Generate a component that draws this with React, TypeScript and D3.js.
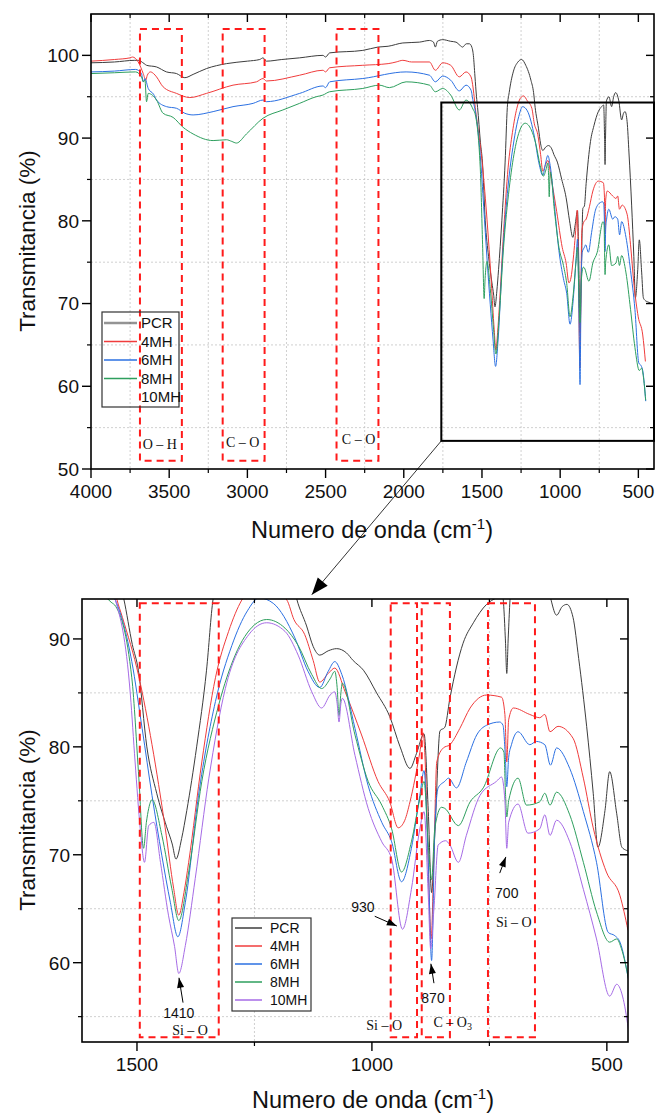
import React from 'react';
import * as d3 from 'd3';

type Pt = [number, number];

// FTIR spectra: [wavenumber (cm-1), transmittance (%)]
const names = ['PCR', '4MH', '6MH', '8MH', '10MH'];
const colors = ['#3d3d3d', '#f03c3c', '#2b70e2', '#2e9f5e', '#a66be6'];

const pcr: Pt[] = [
  [4000, 99.1], [3850, 99.2], [3720, 99.4], [3698, 99.4], [3660, 99.0], [3645, 98.8], [3581, 98.6],
  [3517, 98.0], [3453, 97.8], [3400, 97.3], [3347, 97.7], [3262, 98.4], [3134, 99.0], [3000, 99.3],
  [2921, 99.5], [2900, 99.7], [2879, 99.3], [2780, 99.5], [2666, 99.7], [2517, 100.0], [2500, 99.8],
  [2474, 100.3], [2262, 100.6], [2166, 101.0], [2100, 101.1], [2006, 101.5], [1900, 101.6],
  [1836, 101.8], [1810, 101.6], [1798, 101.0], [1785, 101.7], [1751, 101.9], [1700, 101.7],
  [1666, 101.6], [1640, 101.2], [1624, 101.0], [1600, 101.4], [1580, 101.4], [1565, 101.0],
  [1555, 100.0], [1545, 97.5], [1535, 95.0], [1528, 93.7], [1510, 89.5], [1497, 87.1], [1479, 80.0],
  [1458, 75.7], [1437, 72.6], [1425, 71.0], [1417, 69.6], [1405, 71.5], [1394, 74.1], [1373, 80.0],
  [1352, 87.1], [1338, 93.7], [1326, 95.5], [1300, 98.0], [1270, 99.2], [1247, 99.5], [1220, 98.8],
  [1187, 97.0], [1170, 95.5], [1160, 93.7], [1139, 91.2], [1125, 89.3], [1111, 88.5], [1093, 88.9],
  [1075, 89.1], [1054, 88.7], [1040, 88.0], [1018, 87.1], [990, 85.0], [962, 82.8], [940, 80.0],
  [919, 78.0], [905, 79.4], [889, 81.2], [880, 74.0], [873, 66.5], [866, 72.0], [855, 81.5],
  [845, 81.8], [834, 84.5], [806, 89.6], [784, 91.5], [756, 93.2], [735, 93.8], [722, 94.0],
  [716, 90.0], [713, 86.8], [710, 90.0], [704, 94.5], [688, 95.0], [671, 93.8], [658, 95.0],
  [645, 95.5], [625, 94.5], [607, 92.2], [595, 93.0], [585, 93.2], [572, 92.0], [560, 88.2],
  [543, 81.9], [529, 75.7], [519, 70.7], [504, 74.1], [494, 77.7], [479, 73.8], [468, 70.7],
  [458, 70.4], [440, 70.2], [415, 70.0],
];

const mh4: Pt[] = [
  [4000, 99.3], [3850, 99.5], [3751, 99.7], [3735, 99.8], [3698, 99.2], [3666, 97.8], [3650, 97.0],
  [3640, 97.6], [3620, 98.0], [3600, 97.8], [3581, 97.4], [3539, 96.2], [3453, 95.4], [3368, 94.9],
  [3262, 95.4], [3092, 96.4], [2942, 96.8], [2900, 97.2], [2879, 96.9], [2666, 97.6], [2517, 98.2],
  [2500, 98.0], [2474, 98.5], [2262, 98.8], [2100, 99.0], [2049, 99.2], [2006, 99.4], [1950, 99.2],
  [1836, 99.2], [1798, 98.2], [1751, 99.1], [1700, 98.8], [1645, 97.4], [1602, 98.0], [1570, 97.4],
  [1560, 96.5], [1550, 95.0], [1543, 93.7], [1531, 92.0], [1496, 86.5], [1468, 80.2], [1440, 72.5],
  [1422, 66.9], [1411, 64.4], [1400, 66.5], [1390, 69.3], [1362, 78.6], [1333, 86.4], [1305, 90.7],
  [1277, 93.6], [1255, 94.8], [1234, 95.1], [1210, 94.5], [1181, 93.6], [1166, 91.8], [1143, 90.4],
  [1125, 88.0], [1111, 86.0], [1093, 86.8], [1079, 87.3], [1057, 85.1], [1022, 81.1], [987, 76.8],
  [962, 74.9], [944, 72.5], [930, 73.2], [919, 74.9], [898, 79.5], [891, 81.3], [884, 75.5],
  [878, 66.0], [874, 62.2], [868, 70.0], [862, 78.6], [848, 79.9], [834, 80.2], [813, 81.7],
  [791, 83.6], [756, 84.8], [724, 84.6], [717, 83.0], [713, 78.6], [709, 82.5], [699, 83.6],
  [664, 83.0], [643, 82.7], [632, 83.0], [621, 81.4], [604, 81.9], [572, 80.8], [550, 77.1],
  [529, 72.5], [501, 68.4], [472, 66.2], [455, 63.0],
];

const mh6: Pt[] = [
  [4000, 98.0], [3850, 98.1], [3715, 98.3], [3677, 97.8], [3666, 96.8], [3655, 97.2], [3634, 96.0],
  [3600, 95.3], [3581, 94.6], [3517, 93.8], [3453, 93.6], [3400, 93.0], [3347, 92.8], [3219, 93.2],
  [3092, 93.8], [2963, 94.2], [2900, 94.6], [2879, 94.4], [2666, 95.4], [2517, 96.3], [2500, 96.1],
  [2474, 96.8], [2262, 97.2], [1985, 98.0], [1836, 97.6], [1798, 96.8], [1751, 97.5], [1700, 97.0],
  [1645, 95.7], [1602, 96.4], [1570, 95.8], [1557, 94.5], [1546, 93.6], [1511, 87.9], [1489, 81.7],
  [1468, 75.5], [1447, 69.9], [1429, 65.6], [1413, 62.4], [1397, 65.6], [1369, 75.5], [1333, 84.2],
  [1298, 89.4], [1265, 92.6], [1240, 93.8], [1210, 93.3], [1164, 90.1], [1136, 87.0], [1111, 85.5],
  [1093, 87.0], [1079, 87.9], [1064, 86.7], [1036, 81.7], [1008, 76.4], [979, 73.0], [958, 71.2],
  [937, 67.5], [916, 70.6], [898, 75.5], [889, 77.8], [880, 69.3], [873, 60.2], [866, 72.5],
  [859, 76.2], [845, 76.8], [837, 77.1], [820, 76.2], [799, 78.6], [777, 81.1], [756, 82.0],
  [728, 82.3], [721, 82.0], [716, 79.0], [713, 76.3], [709, 79.0], [703, 80.2], [689, 81.4],
  [664, 80.2], [650, 80.5], [632, 80.2], [620, 78.3], [607, 79.9], [579, 78.0], [550, 74.0],
  [522, 69.3], [497, 62.8], [483, 62.5], [472, 61.9], [453, 58.2],
];

const mh8: Pt[] = [
  [4000, 97.8], [3850, 97.9], [3715, 98.0], [3677, 97.4], [3665, 96.8], [3655, 97.0], [3645, 94.4],
  [3634, 95.4], [3581, 94.6], [3539, 93.0], [3475, 92.5], [3411, 91.3], [3347, 90.5], [3219, 89.7],
  [3134, 89.8], [3100, 89.6], [3070, 89.4], [3006, 90.5], [2900, 92.4], [2773, 93.4], [2666, 94.2],
  [2560, 95.0], [2517, 95.2], [2474, 95.6], [2262, 96.0], [2156, 96.4], [2092, 96.1], [1985, 96.8],
  [1836, 96.4], [1798, 95.6], [1751, 96.0], [1700, 95.2], [1645, 93.4], [1602, 94.6], [1570, 94.0],
  [1555, 93.4], [1545, 93.0], [1511, 86.4], [1496, 77.1], [1486, 70.6], [1480, 73.0], [1475, 74.3],
  [1468, 75.1], [1447, 71.8], [1426, 66.9], [1411, 63.9], [1390, 68.4], [1362, 76.8], [1326, 83.9],
  [1291, 88.5], [1250, 91.3], [1224, 91.8], [1185, 91.0], [1157, 89.4], [1128, 86.7], [1107, 85.4],
  [1089, 86.3], [1079, 87.0], [1074, 85.5], [1070, 82.9], [1066, 85.0], [1063, 85.9], [1036, 81.1],
  [1008, 76.8], [979, 74.6], [958, 72.4], [937, 68.4], [916, 71.2], [898, 75.2], [889, 76.8],
  [880, 70.9], [873, 67.7], [866, 72.5], [852, 74.4], [845, 74.3], [816, 72.7], [791, 74.9],
  [763, 76.2], [726, 79.9], [719, 79.5], [716, 76.0], [713, 73.5], [709, 75.0], [689, 77.1],
  [671, 74.6], [643, 74.9], [632, 75.7], [621, 74.6], [607, 75.8], [579, 73.7], [550, 69.3],
  [522, 64.7], [494, 61.9], [479, 62.2], [469, 61.3], [453, 58.3],
];

const mh10: Pt[] = [
  [1620, 97.0], [1580, 96.5], [1560, 95.0], [1546, 93.6], [1514, 84.8], [1504, 78.6], [1493, 72.4],
  [1484, 69.3], [1475, 72.7], [1464, 73.0], [1450, 69.3], [1433, 64.4], [1420, 61.5], [1411, 59.0],
  [1397, 61.6], [1376, 67.8], [1347, 77.1], [1312, 85.4], [1262, 90.4], [1224, 91.5], [1185, 90.7],
  [1157, 88.5], [1128, 85.1], [1107, 83.6], [1089, 84.8], [1079, 85.1], [1074, 84.0], [1070, 82.3],
  [1066, 84.0], [1063, 84.5], [1036, 79.2], [1008, 74.3], [979, 71.2], [958, 69.6], [935, 63.1],
  [916, 66.8], [898, 72.4], [889, 74.0], [880, 66.2], [875, 61.3], [868, 65.0], [859, 70.9],
  [843, 71.3], [834, 70.9], [816, 69.3], [799, 71.8], [770, 75.5], [735, 76.8], [724, 77.2],
  [717, 75.0], [713, 70.6], [709, 73.0], [689, 74.7], [668, 72.0], [643, 72.4], [632, 73.7],
  [621, 71.8], [607, 73.2], [579, 71.2], [550, 66.8], [522, 62.2], [494, 56.9], [479, 58.0],
  [465, 56.6], [453, 53.5],
];

const seriesData = [pcr, mh4, mh6, mh8, mh10];

const topXMajor = [4000, 3500, 3000, 2500, 2000, 1500, 1000, 500];
const topXMinor = [3750, 3250, 2750, 2250, 1750, 1250, 750];
const topYMajor = [50, 60, 70, 80, 90, 100];
const topYMinor = [55, 65, 75, 85, 95];
const botXMajor = [1500, 1000, 500];
const botXMinor = [1250, 750];
const botYMajor = [60, 70, 80, 90];
const botYMinor = [55, 65, 75, 85];

// dashed band marks
const topBands: Pt[] = [[3687, 3419], [3158, 2890], [2430, 2162]];
const topBandLabels = ['O – H', 'C – O', 'C – O'];
const topBandLabelPos: Pt[] = [[3560, 52.4], [3030, 52.7], [2289, 53.0]];
const topBandY: Pt = [51, 103.2];
const botBands: Pt[] = [[1494, 1326], [960, 904], [894, 834], [753, 653]];
const botBandY: Pt = [53.1, 93.3];
const zoomWin = { x0: 1760, x1: 400, y0: 53.4, y1: 94.3 };

const peakLabels = ['1410', '930', '870', '700'];
const peakTips: Pt[] = [[1410.6, 58.6], [947, 63.4], [874.5, 59.9], [715, 69.8]];
const peakTails: Pt[] = [[1402, 56.3], [994, 64.3], [868, 58.1], [728, 68.3]];
const peakTextPos: Pt[] = [[1411, 54.9], [1019, 64.7], [870, 56.3], [713, 66.0]];
const bondLabels = ['Si – O', 'Si – O', 'C – O', 'Si – O'];
const bondSub = ['', '', '3', ''];
const bondPos: Pt[] = [[1387, 53.3], [974, 53.8], [828, 54.0], [698, 63.3]];

const sans = '"Liberation Sans", Arial, sans-serif';
const serif = '"Liberation Serif", "Times New Roman", serif';

const xTop = d3.scaleLinear().domain([4000, 400]).range([91, 654]);
const yTop = d3.scaleLinear().domain([50, 105]).range([469, 14]);
const xBot = d3.scaleLinear().domain([1617, 455]).range([82, 628]);
const yBot = d3.scaleLinear().domain([52.65, 93.7]).range([1042, 599]);

function arrowHead(tx: number, ty: number, fx: number, fy: number, len: number, hw: number) {
  const a = Math.atan2(ty - fy, tx - fx);
  const bx = tx - len * Math.cos(a);
  const by = ty - len * Math.sin(a);
  const px = -Math.sin(a) * hw;
  const py = Math.cos(a) * hw;
  return `${tx},${ty} ${bx + px},${by + py} ${bx - px},${by - py}`;
}

function Panel({ id, x, y, xMajor, xMinor, yMajor, yMinor, show }: any) {
  const [x0, x1] = x.range();
  const [yb, yt] = y.range();
  const line = d3
    .line<Pt>()
    .x((d) => x(d[0]))
    .y((d) => y(d[1]))
    .curve(d3.curveMonotoneX);
  return (
    <g>
      <defs>
        <clipPath id={id}>
          <rect x={x0} y={yt} width={x1 - x0} height={yb - yt} />
        </clipPath>
      </defs>
      {xMinor.map((v: number) => (
        <line key={'gx' + v} x1={x(v)} x2={x(v)} y1={yt} y2={yb} stroke="#c4c4c4" strokeWidth={0.8} strokeDasharray="2,2" />
      ))}
      {yMinor.map((v: number) => (
        <line key={'gy' + v} x1={x0} x2={x1} y1={y(v)} y2={y(v)} stroke="#c4c4c4" strokeWidth={0.8} strokeDasharray="2,2" />
      ))}
      <g clipPath={`url(#${id})`}>
        {show.map((i: number) => (
          <path key={names[i]} d={line(seriesData[i]) || ''} fill="none" stroke={colors[i]} strokeWidth={1} />
        ))}
      </g>
      <rect x={x0} y={yt} width={x1 - x0} height={yb - yt} fill="none" stroke="#000" strokeWidth={1.6} />
      {xMajor.map((v: number) => (
        <g key={'tx' + v}>
          <line x1={x(v)} x2={x(v)} y1={yb} y2={yb + 9} stroke="#000" strokeWidth={1.4} />
          <line x1={x(v)} x2={x(v)} y1={yt} y2={yt + 8} stroke="#000" strokeWidth={1.4} />
          <text x={x(v)} y={yb + 29} textAnchor="middle" fontSize={19} fontFamily={sans} fill="#111">
            {v}
          </text>
        </g>
      ))}
      {xMinor.map((v: number) => (
        <g key={'mx' + v}>
          <line x1={x(v)} x2={x(v)} y1={yb} y2={yb + 4} stroke="#000" strokeWidth={1.2} />
          <line x1={x(v)} x2={x(v)} y1={yt} y2={yt + 4} stroke="#000" strokeWidth={1.2} />
        </g>
      ))}
      {yMajor.map((v: number) => (
        <g key={'ty' + v}>
          <line x1={x0 - 9} x2={x0} y1={y(v)} y2={y(v)} stroke="#000" strokeWidth={1.4} />
          <line x1={x1 - 8} x2={x1} y1={y(v)} y2={y(v)} stroke="#000" strokeWidth={1.4} />
          <text x={x0 - 12} y={y(v)} dy="0.36em" textAnchor="end" fontSize={19} fontFamily={sans} fill="#111">
            {v}
          </text>
        </g>
      ))}
      {yMinor.map((v: number) => (
        <g key={'my' + v}>
          <line x1={x0 - 4} x2={x0} y1={y(v)} y2={y(v)} stroke="#000" strokeWidth={1.2} />
          <line x1={x1 - 4} x2={x1} y1={y(v)} y2={y(v)} stroke="#000" strokeWidth={1.2} />
        </g>
      ))}
    </g>
  );
}

function Titles({ cx, cy, xBase, yBase }: any) {
  return (
    <g fontFamily={sans} fill="#111">
      <text transform={`translate(${xBase},${cy}) rotate(-90)`} textAnchor="middle" fontSize={22.5}>
        Transmitancia (%)
      </text>
      <text x={cx} y={yBase} textAnchor="middle" fontSize={23.5}>
        <tspan>Numero de onda (cm</tspan>
        <tspan dy={-9} fontSize={15}>-1</tspan>
        <tspan dy={9}>)</tspan>
      </text>
    </g>
  );
}

function Legend({ x, y, w, h, rowY, lineX, textX, show, fill, fontSize }: any) {
  return (
    <g>
      <rect x={x} y={y} width={w} height={h} fill={fill} stroke="#333" strokeWidth={1.2} />
      {names.map((n, i) => (
        <g key={n}>
          {show.includes(i) && (
            <line
              x1={lineX[0]}
              x2={lineX[1]}
              y1={rowY[i]}
              y2={rowY[i]}
              stroke={colors[i]}
              strokeWidth={i === 0 && fill === 'none' ? 2.5 : 1.5}
              strokeOpacity={i === 0 && fill === 'none' ? 0.55 : 1}
            />
          )}
          <text x={textX} y={rowY[i]} dy="0.36em" fontSize={fontSize} fontFamily={sans} fill="#111">
            {n}
          </text>
        </g>
      ))}
    </g>
  );
}

export default function App() {
  const dashRed = { fill: 'none', stroke: '#ff1a1a', strokeWidth: 2, strokeDasharray: '7,5' };
  const cornerX = xTop(zoomWin.x0);
  const cornerY = yTop(zoomWin.y0);
  const bigTipX = xBot(1128);
  const bigTipY = yBot(94.1);
  return (
    <svg width={657} height={1114} style={{ position: 'absolute', left: 0, top: 0, background: '#fff' }}>
      <rect width={657} height={1114} fill="#fff" />
      {/* upper panel: full spectrum */}
      <Panel id="clipTop" x={xTop} y={yTop} xMajor={topXMajor} xMinor={topXMinor} yMajor={topYMajor} yMinor={topYMinor} show={[0, 1, 2, 3]} />
      {topBands.map((b, i) => (
        <rect key={'tb' + i} x={xTop(b[0])} y={yTop(topBandY[1])} width={xTop(b[1]) - xTop(b[0])} height={yTop(topBandY[0]) - yTop(topBandY[1])} {...dashRed} />
      ))}
      {topBandLabels.map((t, i) => (
        <text key={'tl' + i} x={xTop(topBandLabelPos[i][0])} y={yTop(topBandLabelPos[i][1])} textAnchor="middle" fontSize={14} fontFamily={serif} fill="#111">
          {t}
        </text>
      ))}
      <rect x={cornerX} y={yTop(zoomWin.y1)} width={xTop(zoomWin.x1) - cornerX} height={cornerY - yTop(zoomWin.y1)} fill="none" stroke="#000" strokeWidth={2} />
      <Legend x={102} y={312} w={77} h={95} rowY={[323, 341.5, 360, 378.5, 397]} lineX={[104, 137]} textX={141} show={[0, 1, 2, 3]} fill="none" fontSize={15} />
      <Titles cx={372} cy={241} xBase={35} yBase={538} />

      {/* lower panel: fingerprint region */}
      <Panel id="clipBot" x={xBot} y={yBot} xMajor={botXMajor} xMinor={botXMinor} yMajor={botYMajor} yMinor={botYMinor} show={[0, 1, 2, 3, 4]} />
      {botBands.map((b, i) => (
        <rect key={'bb' + i} x={xBot(b[0])} y={yBot(botBandY[1])} width={xBot(b[1]) - xBot(b[0])} height={yBot(botBandY[0]) - yBot(botBandY[1])} {...dashRed} />
      ))}
      {peakLabels.map((t, i) => {
        const tx = xBot(peakTips[i][0]);
        const ty = yBot(peakTips[i][1]);
        const fx = xBot(peakTails[i][0]);
        const fy = yBot(peakTails[i][1]);
        return (
          <g key={'pk' + t}>
            <line x1={fx} y1={fy} x2={tx} y2={ty} stroke="#000" strokeWidth={1} />
            <polygon points={arrowHead(tx, ty, fx, fy, 10, 3.5)} fill="#000" />
            <text x={xBot(peakTextPos[i][0])} y={yBot(peakTextPos[i][1])} textAnchor="middle" fontSize={14} fontFamily={sans} fill="#111">
              {t}
            </text>
          </g>
        );
      })}
      {bondLabels.map((t, i) => (
        <text key={'bl' + i} x={xBot(bondPos[i][0])} y={yBot(bondPos[i][1])} textAnchor="middle" fontSize={14} fontFamily={serif} fill="#111">
          {t}
          {bondSub[i] && (
            <tspan fontSize={10} dy={3}>
              {bondSub[i]}
            </tspan>
          )}
        </text>
      ))}
      <Legend x={232} y={918} w={79} h={93} rowY={[928, 946, 964, 982, 1000]} lineX={[235, 262]} textX={270} show={[0, 1, 2, 3, 4]} fill="#fff" fontSize={14} />
      <Titles cx={373} cy={820} xBase={35} yBase={1108} />

      {/* link from zoom window to lower panel */}
      <line x1={cornerX} y1={cornerY} x2={bigTipX} y2={bigTipY} stroke="#000" strokeWidth={0.8} />
      <polygon points={arrowHead(bigTipX, bigTipY, cornerX, cornerY, 17, 6.5)} fill="#000" />
    </svg>
  );
}
